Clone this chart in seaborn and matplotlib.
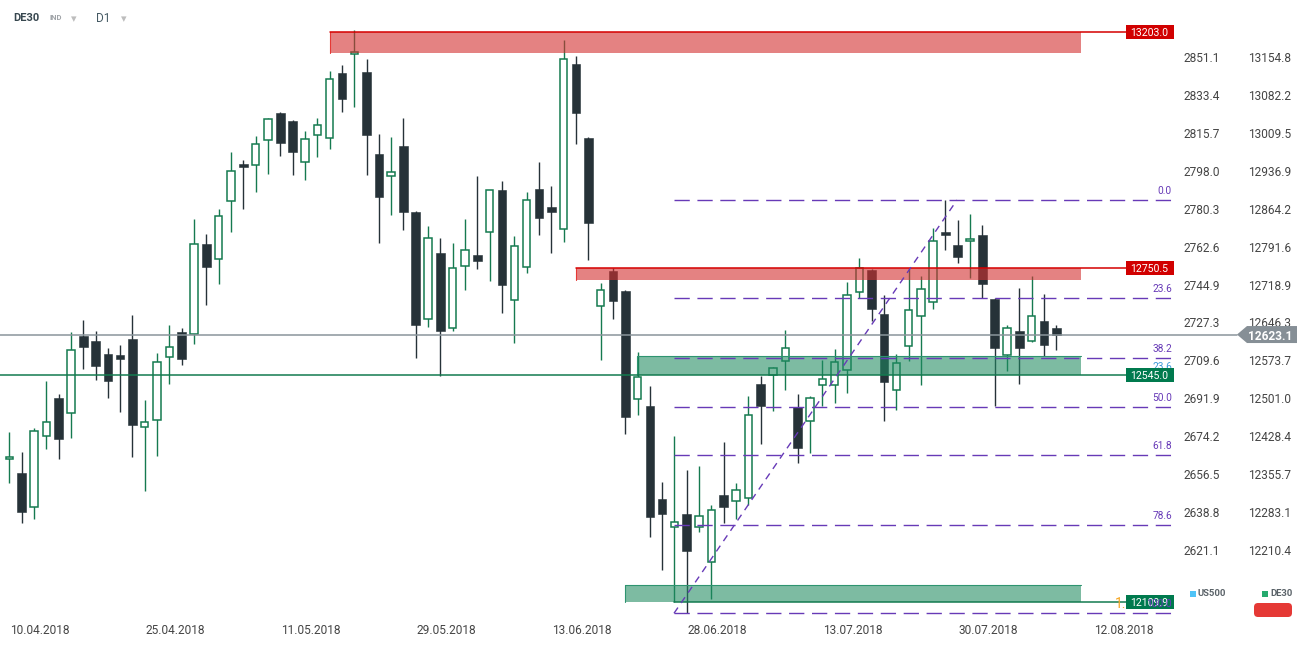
import matplotlib
matplotlib.use("Agg")
import matplotlib.pyplot as plt
from matplotlib.patches import Rectangle, Polygon, FancyBboxPatch
from matplotlib.transforms import blended_transform_factory, IdentityTransform
import numpy as np
import pandas as pd
import seaborn as sns

# ---------------- data (DE30, D1) ----------------
opens = [12384.0, 12357.7, 12292.0, 12428.0, 12501.5, 12472.1, 12620.3, 12610.7, 12585.8, 12583.9,
         12614.5, 12445.3, 12458.7, 12579.5, 12628.0, 12623.6, 12796.6, 12767.3, 12878.5, 12949.4,
         12947.5, 12995.4, 13047.7, 13032.4, 12953.2, 13005.0, 12999.3, 13124.4, 13160.3, 13126.3,
         12969.2, 12926.4, 12984.5, 12858.0, 12652.3, 12779.4, 12635.1, 12753.9, 12775.6, 12819.1,
         12899.6, 12688.7, 12752.0, 12902.1, 12867.6, 12824.8, 13141.7, 12999.8, 12677.2, 12744.9,
         12706.6, 12499.0, 12486.1, 12307.9, 12253.6, 12279.1, 12253.6, 12186.5, 12315.5, 12303.5,
         12309.2, 12528.3, 12546.1, 12571.8, 12484.8, 12456.8, 12525.8, 12525.8, 12554.6, 12704.1,
         12746.8, 12662.5, 12516.2, 12600.6, 12658.1, 12684.9, 12819.6, 12794.7, 12801.8, 12813.9,
         12691.2, 12583.3, 12629.9, 12610.1, 12649.1, 12635.6]
highs = [12436.3, 12397.9, 12444.0, 12534.0, 12509.1, 12628.0, 12651.0, 12629.9, 12597.3, 12603.0,
         12660.6, 12497.6, 12587.7, 12641.4, 12635.6, 12844.6, 12815.8, 12863.7, 12973.0, 12957.7,
         13003.7, 13038.2, 13049.6, 13033.4, 13013.2, 13038.2, 13127.7, 13139.8, 13206.8, 13151.3,
         13007.5, 13001.7, 13038.2, 12859.0, 12831.1, 12808.1, 12798.6, 12844.6, 12927.0, 12901.0,
         12917.4, 12812.0, 12895.7, 12953.8, 12907.8, 13187.7, 13157.0, 13000.8, 12721.9, 12749.7,
         12707.6, 12589.6, 12524.5, 12340.4, 12428.0, 12363.4, 12371.1, 12295.8, 12417.1, 12338.5,
         12505.3, 12544.2, 12560.3, 12631.8, 12509.1, 12505.3, 12574.3, 12595.4, 12723.2, 12769.8,
         12749.3, 12698.9, 12585.8, 12748.7, 12734.7, 12827.3, 12881.0, 12842.6, 12854.1, 12833.1,
         12692.2, 12641.4, 12712.3, 12734.7, 12700.8, 12641.4]
lows = [12339.1, 12262.4, 12270.1, 12404.3, 12385.1, 12425.4, 12557.6, 12536.5, 12502.0, 12475.2,
        12388.9, 12323.8, 12390.9, 12528.9, 12565.3, 12605.5, 12679.7, 12720.5, 12820.2, 12864.3,
        12896.9, 12931.4, 12965.9, 12929.5, 12919.9, 12964.0, 12979.3, 13050.2, 13059.8, 12929.5,
        12799.1, 12852.8, 12824.1, 12578.1, 12638.1, 12543.6, 12630.5, 12709.0, 12749.3, 12726.3,
        12665.0, 12607.5, 12741.6, 12814.5, 12780.0, 12801.4, 12988.9, 12766.6, 12574.9, 12653.5,
        12433.0, 12469.4, 12235.6, 12172.4, 12111.0, 12088.8, 12245.2, 12116.8, 12262.4, 12270.1,
        12296.4, 12413.9, 12477.1, 12517.4, 12377.4, 12396.6, 12485.5, 12492.5, 12510.1, 12692.6,
        12649.6, 12457.9, 12479.0, 12573.0, 12527.0, 12672.6, 12785.7, 12760.8, 12732.0, 12692.6,
        12486.7, 12553.8, 12528.9, 12609.1, 12582.0, 12594.0]
closes = [12387.8, 12283.5, 12437.6, 12454.9, 12423.4, 12592.9, 12599.8, 12563.4, 12534.6, 12576.8,
          12450.3, 12454.9, 12570.5, 12598.6, 12576.8, 12796.1, 12753.1, 12849.7, 12936.0, 12943.7,
          12987.8, 13035.7, 12990.8, 12973.6, 12997.3, 13024.2, 13112.3, 13075.2, 13164.1, 13006.2,
          12887.3, 12934.1, 12858.6, 12642.0, 12807.6, 12630.5, 12750.1, 12784.6, 12764.6, 12899.6,
          12718.6, 12792.2, 12880.4, 12847.1, 12858.6, 13150.7, 13048.3, 12837.5, 12707.9, 12688.0,
          12465.6, 12541.1, 12273.9, 12279.7, 12263.2, 12208.7, 12274.7, 12286.2, 12293.1, 12324.5,
          12468.9, 12485.5, 12558.4, 12596.7, 12406.2, 12500.9, 12537.3, 12569.9, 12698.3, 12750.1,
          12672.6, 12532.7, 12568.0, 12669.6, 12709.8, 12801.8, 12814.5, 12772.3, 12805.7, 12720.5,
          12597.9, 12635.1, 12597.9, 12658.1, 12603.6, 12623.1]

date_labels = ["10.04.2018", "25.04.2018", "11.05.2018", "29.05.2018", "13.06.2018",
               "28.06.2018", "13.07.2018", "30.07.2018", "12.08.2018"]
de30_ticks = [13154.8, 13082.2, 13009.5, 12936.9, 12864.2, 12791.6, 12718.9,
              12646.3, 12573.7, 12501.0, 12428.4, 12355.7, 12283.1, 12210.4]
us500_ticks = [2851.1, 2833.4, 2815.7, 2798.0, 2780.3, 2762.6, 2744.9,
               2727.3, 2709.6, 2691.9, 2674.2, 2656.5, 2638.8, 2621.1]

last_price = 12623.1
resist_zones = [(13162.8, 13203.0), (12727.6, 12750.5)]
support_zones = [(12545.0, 12582.0), (12109.9, 12143.0)]
fib_ratios = [0.0, 0.236, 0.382, 0.5, 0.618, 0.786, 1.0]
fib_high_bar, fib_low_bar = 76, 55

# ---------------- layout ----------------
sns.set_theme(style="white")
plt.rcParams["font.family"] = ["Roboto", "DejaVu Sans"]

W, H = 1308, 650
AX_R, AX_B = 1173, 620
fig = plt.figure(figsize=(W / 100, H / 100), dpi=100)
ax = fig.add_axes([0, 1 - AX_B / H, AX_R / W, AX_B / H])
for s in ax.spines.values():
    s.set_visible(False)

PX_X = 12.318            # px per bar
PX_P = 1.9168            # price units per px
X0_PX = 9.3
ytop = 13264.34
ybot = ytop - AX_B * PX_P
xlo = -X0_PX / PX_X
xhi = (AX_R - X0_PX) / PX_X
ax.set_xlim(xlo, xhi)
ax.set_ylim(ybot, ytop)

def px2x(px):
    return (px - X0_PX) / PX_X

GREEN = "#157a50"
DARK = "#263238"
df = pd.DataFrame(dict(open=opens, high=highs, low=lows, close=closes))
df["i"] = np.arange(len(df))
df["bull"] = df["close"] >= df["open"]
df["bottom"] = df[["open", "close"]].min(axis=1)
df["size"] = (df["close"] - df["open"]).abs().clip(lower=2.6)

ax.vlines(df["i"], df["low"], df["high"],
          colors=np.where(df["bull"], GREEN, DARK), lw=1.0, zorder=2)
b = df[df["bull"]]
ax.bar(b["i"], b["size"], bottom=b["bottom"], width=0.6, facecolor="white",
       edgecolor=GREEN, linewidth=1.1, zorder=3)
d = df[~df["bull"]]
ax.bar(d["i"], d["size"], bottom=d["bottom"], width=0.7, facecolor=DARK,
       edgecolor=DARK, linewidth=0.4, zorder=3)

# ---------------- zones ----------------
ZONE_END = px2x(1081)
LINE_END = px2x(1126)
RED_FILL, RED_LINE = "#d32f2f", "#d50000"
GRN_FILL, GRN_LINE = "#1f8a60", "#137a4f"
zone_starts_r = [px2x(330), px2x(576)]
zone_starts_g = [px2x(637), px2x(625)]
for (lo, hi), xs in zip(resist_zones, zone_starts_r):
    ax.add_patch(Rectangle((xs, lo), ZONE_END - xs, hi - lo, fc=RED_FILL, alpha=0.6,
                           ec="none", zorder=4))
    ax.plot([xs, xs], [lo, hi], color="#e53935", lw=0.8, zorder=4)
    ax.plot([xs, LINE_END], [hi, hi], color=RED_LINE, lw=1.1, zorder=5)
for (lo, hi), xs in zip(support_zones, zone_starts_g):
    ax.add_patch(Rectangle((xs, lo), ZONE_END - xs, hi - lo, fc=GRN_FILL, alpha=0.58,
                           ec="none", zorder=4))
    ax.plot([xs, xs, ZONE_END], [lo, hi, hi], color="#2e9470", lw=0.8, zorder=4)
ax.plot([xlo, LINE_END], [support_zones[0][0]] * 2, color=GRN_LINE, lw=1.1, zorder=5)
ax.plot([px2x(674), LINE_END], [support_zones[1][0]] * 2, color=GRN_LINE, lw=1.1, zorder=5)

# ---------------- fibonacci ----------------
PURPLE = "#673ab7"
fh = highs[fib_high_bar]
fl = lows[fib_low_bar]
fx0 = px2x(674)
for r in fib_ratios:
    lvl = fh - r * (fh - fl)
    ax.plot([fx0, px2x(1172)], [lvl, lvl], color=PURPLE, lw=1.0,
            linestyle=(0, (11, 5.5)), zorder=5)
    ax.text(px2x(1172), lvl + 4 * PX_P, f"{r * 100:.1f}", ha="right", va="bottom",
            fontsize=7.3, color=PURPLE, zorder=9)
ax.plot([fx0, px2x(957)], [fl, fh], color=PURPLE, lw=1.0, linestyle=(0, (5, 4)), zorder=5)
ax.text(px2x(1172), ytop - 366.5 * PX_P, "23.6", ha="right", va="center",
        fontsize=7.3, color="#3d9ad8", zorder=6)
ax.text(px2x(1115), ytop - 604 * PX_P, "1.0", ha="left", va="center",
        fontsize=10, color="#f5a623", zorder=6)

# ---------------- price labels ----------------
tya = blended_transform_factory(ax.transAxes, ax.transData)
def price_box(price, color):
    x0 = 1126 / AX_R
    hh = 7.2 * PX_P
    ax.add_patch(Rectangle((x0, price - hh), 1.0 - x0 + 0.0005, 2 * hh, transform=tya,
                           fc=color, ec="none", zorder=7, clip_on=False))
    ax.text((1126 + 1173) / 2 / AX_R, price, f"{price:.1f}", transform=tya, ha="center",
            va="center_baseline", color="white", fontsize=7.6, zorder=8)

price_box(resist_zones[0][1], "#d10000")
price_box(resist_zones[1][1], "#d10000")
price_box(support_zones[0][0], "#007a4e")
price_box(support_zones[1][0], "#007a4e")

# last price line and tag
ax.plot([0, 1237 / AX_R], [last_price, last_price], transform=tya, color="#8a959b",
        lw=1.1, zorder=5, clip_on=False)
yp = H - (ytop - last_price) / PX_P
tag = Polygon([(1237, yp), (1247, yp + 8.5), (1297, yp + 8.5), (1297, yp - 8.5), (1247, yp - 8.5)],
              closed=True, transform=IdentityTransform(), fc="#868f96", ec="none", zorder=10)
fig.patches.append(tag)
fig.text(1270 / W, yp / H, f"{last_price:.1f}", ha="center", va="center_baseline",
         color="white", fontsize=8.6, fontweight="bold", zorder=11)

# ---------------- axes ticks ----------------
ax2 = ax.twinx()
ax2.set_ylim(ybot, ytop)
for s in ax2.spines.values():
    s.set_visible(False)
ax2.set_yticks(de30_ticks)
ax2.set_yticklabels([f"{v:.1f}" for v in de30_ticks])
ax2.tick_params(axis="y", length=0, pad=54, labelsize=8.6, labelcolor="#454545")
ax2.grid(False)

ax.set_xticks([2.45 + 11 * k for k in range(len(date_labels))])
ax.set_xticklabels(date_labels)
ax.tick_params(axis="x", length=0, pad=3.2, labelsize=8.6, labelcolor="#454545")
ax.set_yticks(de30_ticks)
ax.set_yticklabels([f"{v:.1f}" for v in us500_ticks])
ax.yaxis.tick_right()
ax.tick_params(axis="y", left=False, labelleft=False, right=False, labelright=True,
               length=0, pad=7.2, labelsize=8.6, labelcolor="#454545")
ax.grid(False)

# ---------------- header ----------------
def fy(py):
    return 1 - py / H
fig.text(13 / W, fy(18), "DE30", ha="left", va="center", fontsize=8, fontweight="bold", color="#37474f")
fig.text(50 / W, fy(18), "IND", ha="left", va="center", fontsize=5.5, fontweight="bold", color="#a0a4a8")
fig.text(71 / W, fy(19), "▾", ha="left", va="center", fontsize=8, color="#bdbdbd")
fig.text(96 / W, fy(18), "D1", ha="left", va="center", fontsize=8.5, color="#455a64")
fig.text(121 / W, fy(19), "▾", ha="left", va="center", fontsize=8, color="#bdbdbd")

# ---------------- legend ----------------
fig.patches.append(Rectangle((1190, H - 597), 6, 6, transform=IdentityTransform(),
                             fc="#4fc3f7", ec="none"))
fig.text(1198 / W, fy(594), "US500", ha="left", va="center", fontsize=6.8,
         fontweight="bold", color="#5a6268")
fig.patches.append(Rectangle((1262, H - 597), 6, 6, transform=IdentityTransform(),
                             fc="#26aa6e", ec="none"))
fig.text(1270 / W, fy(594), "DE30", ha="left", va="center", fontsize=6.8,
         fontweight="bold", color="#5a6268")
fig.patches.append(FancyBboxPatch((1254, H - 617), 38, 14,
                                  boxstyle="round,pad=0,rounding_size=4",
                                  transform=IdentityTransform(), fc="#e53935", ec="none"))

fig.savefig("out.png", dpi=100)
